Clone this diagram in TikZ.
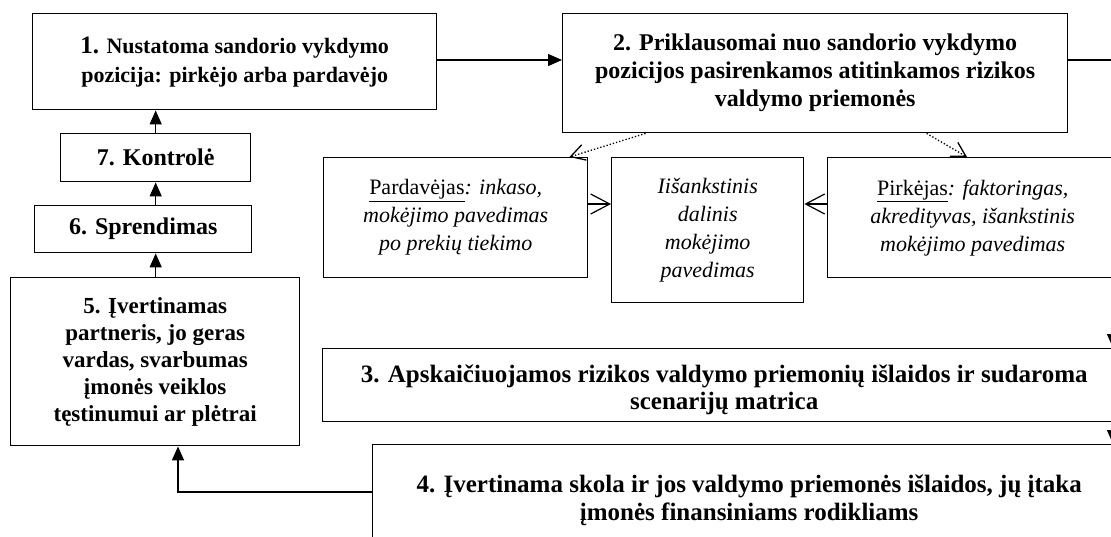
\documentclass[tikz,border=0pt]{standalone}
\usepackage{fontspec}
\setmainfont{Liberation Serif}
\usetikzlibrary{positioning, arrows.meta, calc}

\begin{document}
\begin{tikzpicture}[
    x=1pt, y=-1pt,
    stage/.style={
        draw, line width=1.4pt, anchor=north west, inner sep=0pt,
        align=center, font=\fontsize{24}{28}\selectfont\bfseries,
    },
    means/.style={
        draw, line width=1.4pt, anchor=north west, inner sep=0pt,
        align=center, font=\fontsize{22}{28}\selectfont\itshape,
    },
    flow/.style={-{Triangle[length=14pt,width=12pt]}, line width=1.4pt},
    pick/.style={-{Straight Barb[length=14pt,width=16pt]}, line width=1.3pt, dotted},
    alt/.style={-{Straight Barb[length=19pt,width=20pt]}, line width=1.2pt},
]

\useasboundingbox (0,0) rectangle (1111,536);
\clip (0,0) rectangle (1111,536);

% top row
\node[stage, minimum width=404pt, minimum height=96pt,
      font=\fontsize{22}{29}\selectfont\bfseries] (box1) at (32,13)
    {{\fontsize{25}{29}\selectfont 1.} Nustatoma sandorio vykdymo \\ pozicija: pirkėjo arba pardavėjo};
\node[stage, minimum width=505pt, minimum height=119pt] (box2) at (562,13)
    {2. Priklausomai nuo sandorio vykdymo \\ pozicijos pasirenkamos atitinkamos rizikos \\ valdymo priemonės};

% left column
\node[stage, minimum width=190pt, minimum height=48pt] (k7) at (60,133) {7. Kontrolė};
\node[stage, minimum width=217pt, minimum height=47pt] (s6) at (34,205) {6. Sprendimas};
\node[stage, minimum width=289pt, minimum height=168pt,
      font=\fontsize{23}{27}\selectfont\bfseries] (e5) at (10,277)
    {5. Įvertinamas \\ partneris, jo geras \\ vardas, svarbumas \\ įmonės veiklos \\ tęstinumui ar plėtrai};

% risk management means
\node[means, minimum width=264pt, minimum height=120pt] (sell) at (323,157)
    {{\upshape\underline{Pardavėjas}}: inkaso, \\ mokėjimo pavedimas \\ po prekių tiekimo};
\node[means, minimum width=192pt, minimum height=145pt] (part) at (611,157)
    {Iišankstinis \\ dalinis \\ mokėjimo \\ pavedimas};
\node[means, minimum width=290pt, minimum height=120pt] (buy) at (827,157)
    {{\upshape\underline{Pirkėjas}}: faktoringas, \\ akredityvas, išankstinis \\ mokėjimo pavedimas};

% lower boxes
\node[stage, minimum width=803pt, minimum height=73pt,
      font=\fontsize{25}{27}\selectfont\bfseries] (c3) at (322,348)
    {\rule{0pt}{26pt}3. Apskaičiuojamos rizikos valdymo priemonių išlaidos ir sudaroma \\ scenarijų matrica};
\node[stage, minimum width=753pt, minimum height=111pt,
      font=\fontsize{25}{28}\selectfont\bfseries] (d4) at (372,444)
    {4. Įvertinama skola ir jos valdymo priemonės išlaidos, jų įtaka \\ įmonės finansiniams rodikliams};

% helper points
\coordinate (turn) at (1113,60);
\coordinate (link) at (178,492);
\coordinate (mid) at (0,204);

% main flow
\draw[flow] (turn -| box1.east) -- (turn -| box2.west);
\draw[flow] (turn -| box2.east) -- (turn) -- (turn |- c3.north);
\draw[flow] (turn |- c3.south) -- (turn |- d4.north);
\draw[flow] (link -| d4.west) -- (link) -- (link |- e5.south);
\draw[flow] (k7.south |- e5.north) -- (k7.south |- s6.south);
\draw[flow] (k7.south |- s6.north) -- (k7.south);
\draw[flow] (k7.north) -- (k7.north |- box1.south);

% choice of means
\draw[pick] ($(box2.south west)!0.165!(box2.south east)$) -- ($(sell.north east)+(-19,0)$);
\draw[pick] ($(box2.south west)!0.72!(box2.south east)$) -- ($(buy.north west)+(140,0)$);
\draw[alt] (mid -| sell.east) -- (mid -| part.west);
\draw[alt] (mid -| buy.west) -- (mid -| part.east);

\end{tikzpicture}
\end{document}
